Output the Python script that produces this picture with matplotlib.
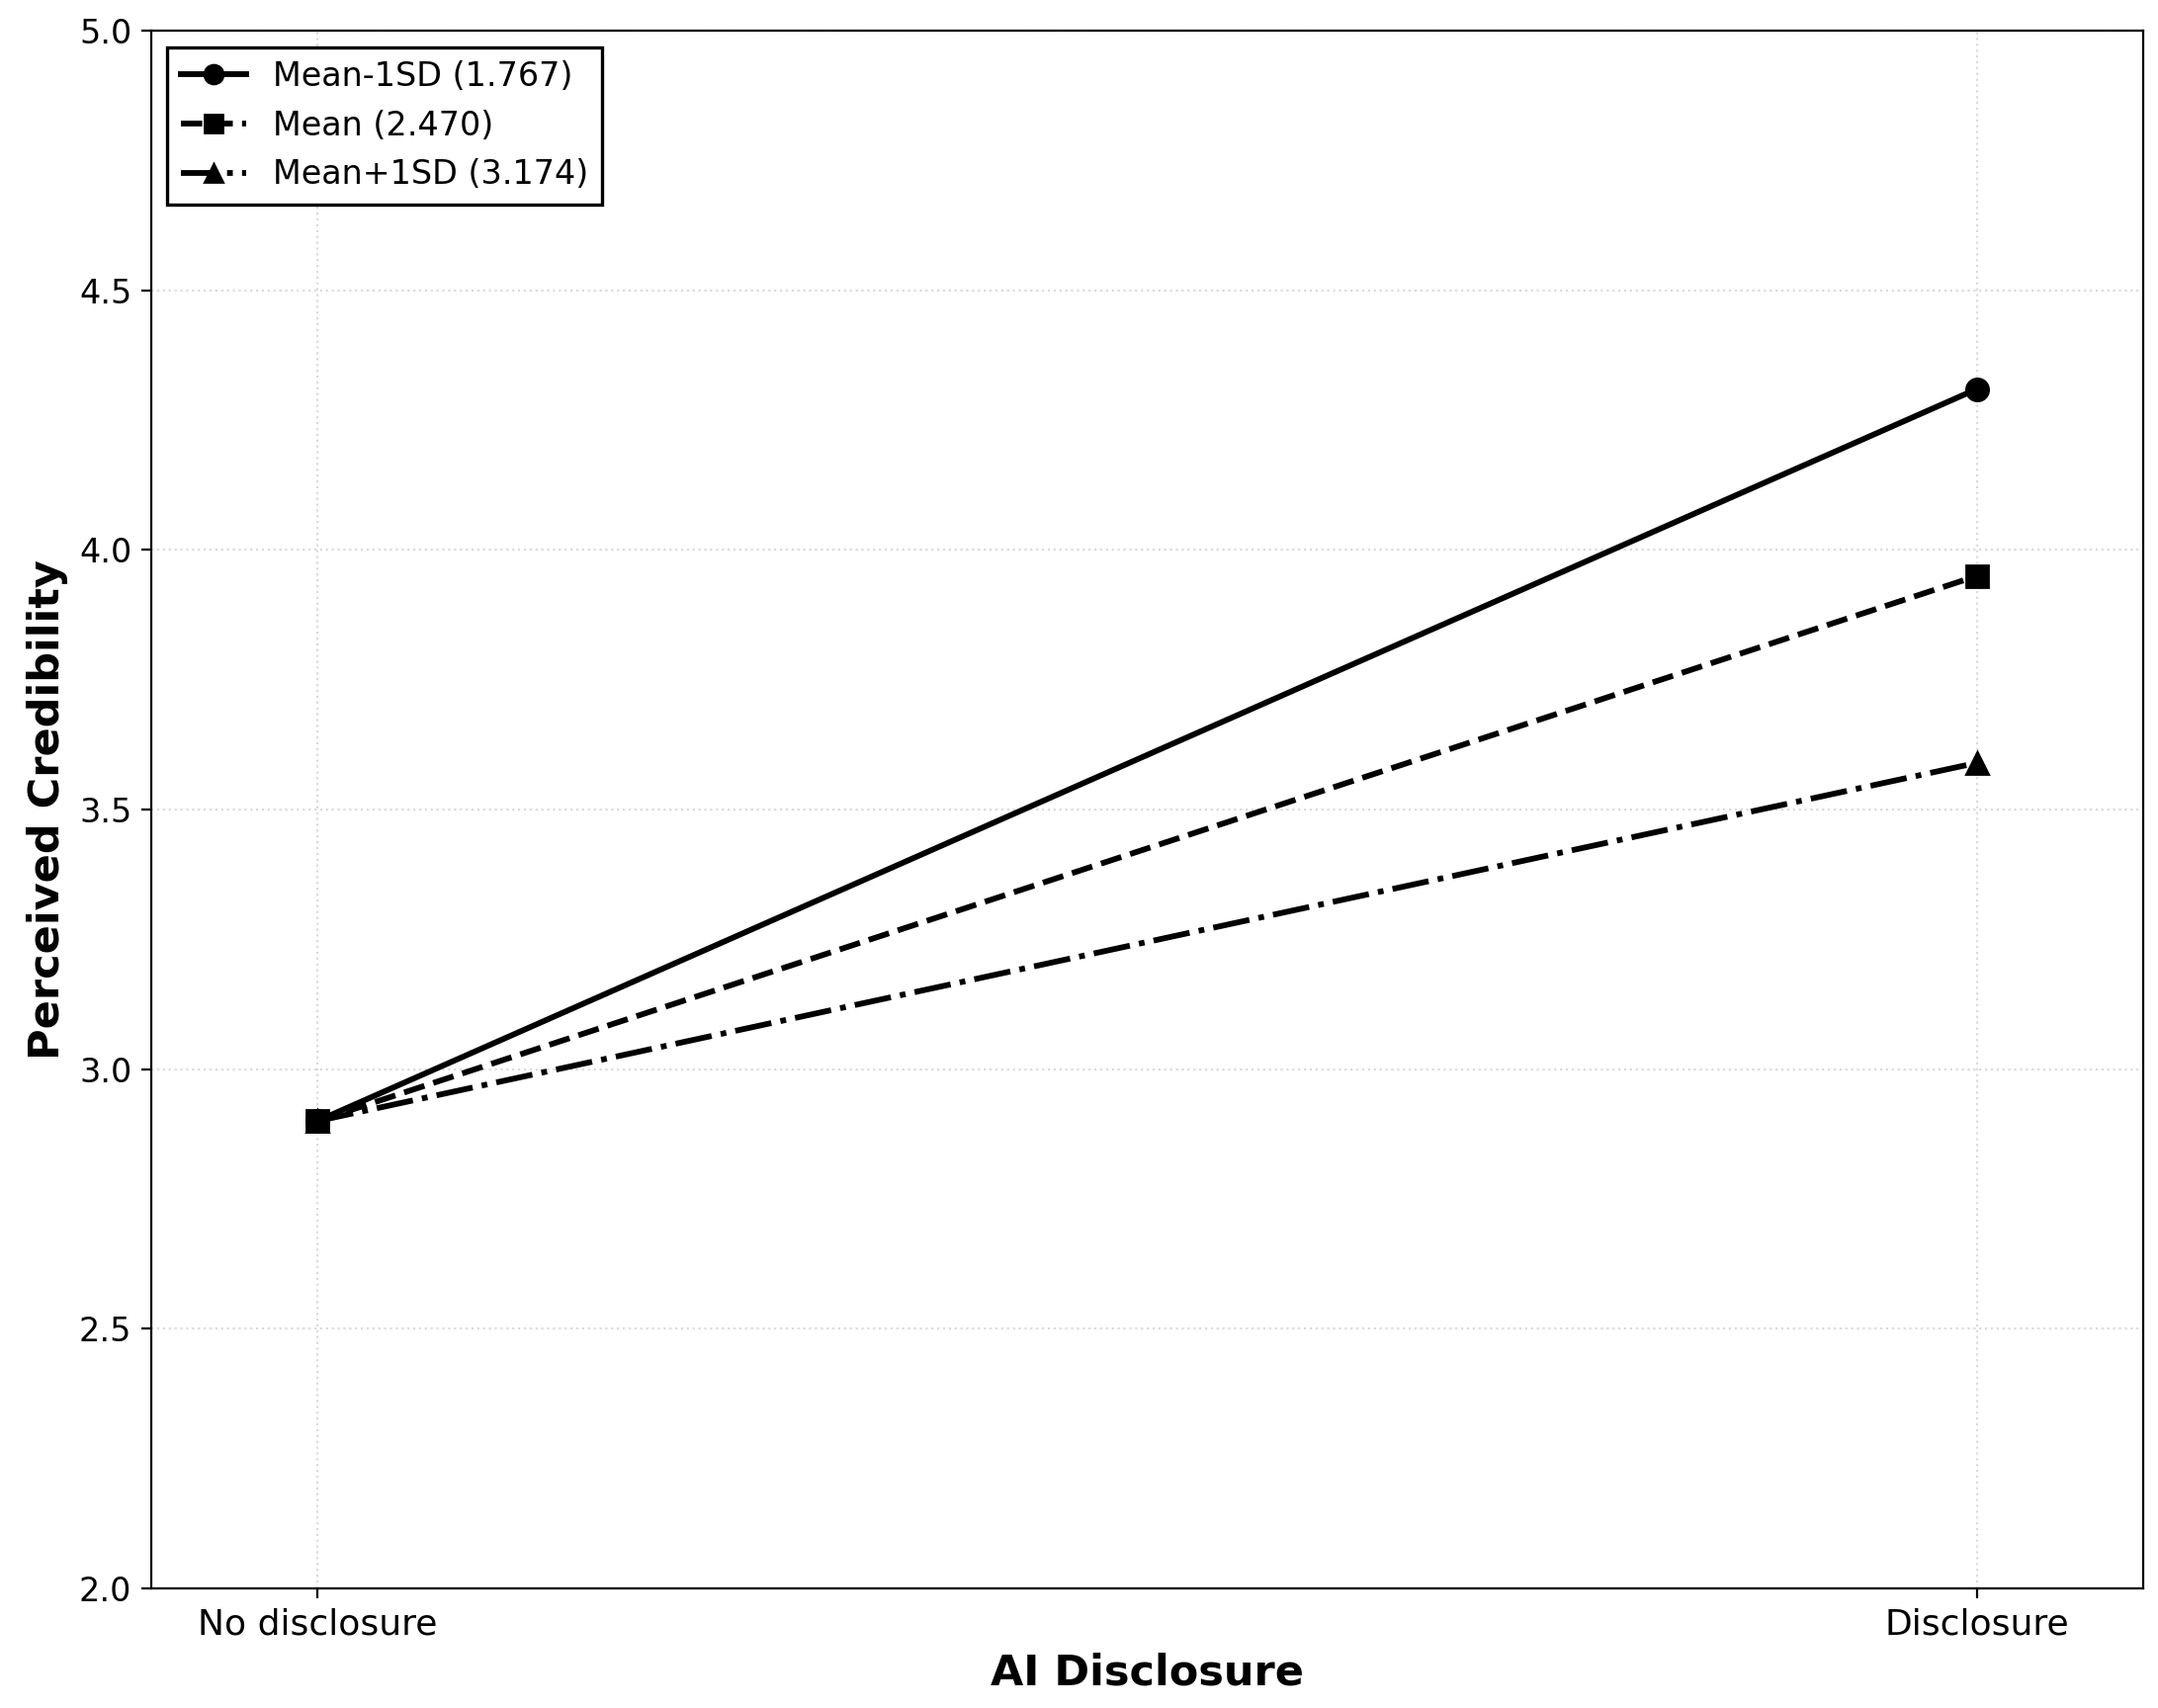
import matplotlib
matplotlib.use("Agg")
from matplotlib import pyplot as plt

conditions = ['No disclosure', 'Disclosure']
low = [2.90, 4.31]
mid = [2.90, 3.95]
high = [2.90, 3.59]
labels = ['Mean-1SD (1.767)', 'Mean (2.470)', 'Mean+1SD (3.174)']

fig, ax = plt.subplots(figsize=(10.915, 8.64), dpi=200)
fig.subplots_adjust(left=0.070, right=0.993, top=0.982, bottom=0.070)

x = [0, 1]
ax.plot(x, low, color='black', linestyle='-', marker='o', lw=2.1, ms=8, label=labels[0])
ax.plot(x, mid, color='black', linestyle='--', marker='s', lw=2.1, ms=8, label=labels[1])
ax.plot(x, high, color='black', linestyle='-.', marker='^', lw=2.1, ms=8, label=labels[2])

ax.set_xlim(-0.1, 1.1)
ax.set_ylim(2.0, 5.0)
ax.set_xticks(x)
ax.set_xticklabels(conditions)
ax.tick_params(axis='y', labelsize=12)
ax.tick_params(axis='x', labelsize=13)
ax.set_xlabel('AI Disclosure', fontsize=15.5, fontweight='bold')
ax.set_ylabel('Perceived Credibility', fontsize=15.5, fontweight='bold')
ax.grid(True, linestyle=':', color='lightgray', alpha=0.8)

leg = ax.legend(loc='upper left', fontsize=12, fancybox=False, framealpha=1, markerscale=0.85)
leg.get_frame().set_edgecolor('black')
leg.get_frame().set_linewidth(1.2)

fig.savefig('out.png', dpi=200)
